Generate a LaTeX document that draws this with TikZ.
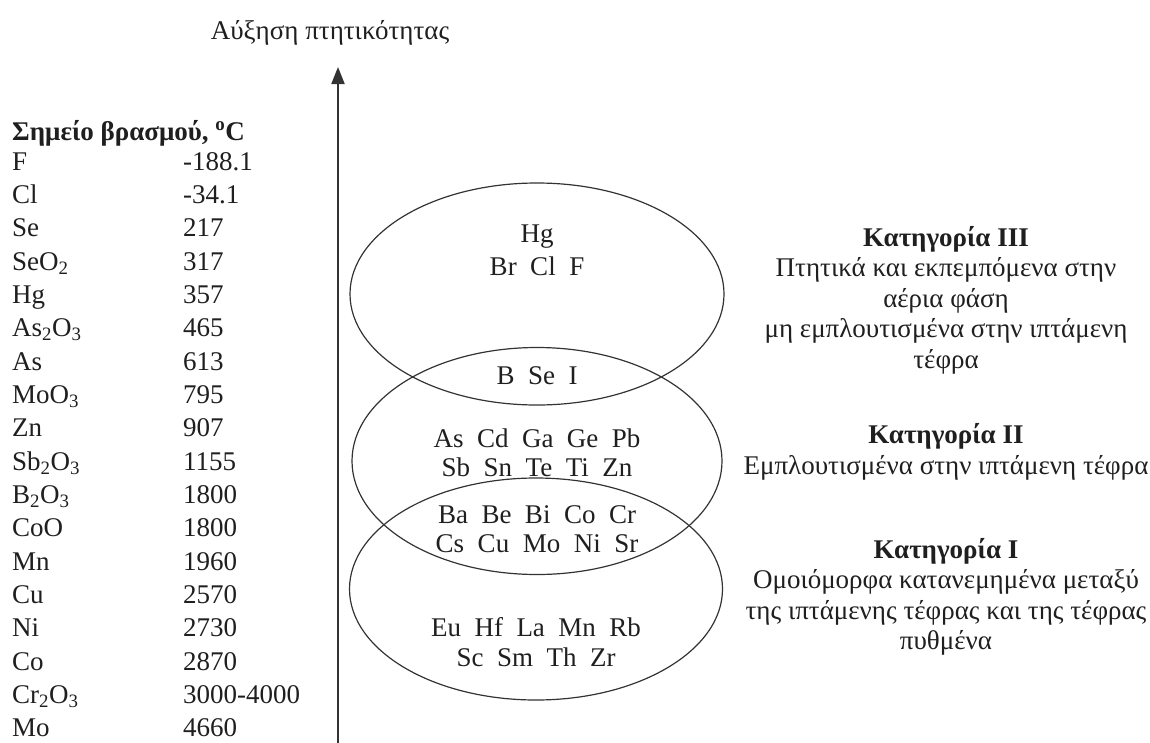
\documentclass[tikz,border=0pt]{standalone}
\usepackage{fontspec}
\setmainfont{Liberation Serif}
\usetikzlibrary{arrows.meta,shapes.geometric}
\newcommand{\gp}{\hspace{0.5em}}
\begin{document}
\begin{tikzpicture}[x=1pt,y=-1pt,
  txt/.style={inner sep=0pt,font=\fontsize{27}{30.5}\selectfont,text=black!88},
  lbl/.style={txt,anchor=base west},
  inner/.style={txt,anchor=base},
  cat/.style={txt,align=center,anchor=center},
  oval/.style={ellipse,draw=black!80,line width=1.2pt,inner sep=0pt},
  axis/.style={draw=black!80,line width=2pt,-{Triangle[width=13pt,length=17pt]}}]
\useasboundingbox (0,0) rectangle (1150,742);
% axis
\coordinate (abot) at (338,745);
\coordinate (atop) at (338,67);
\draw[axis] (abot) -- (atop);
\node[inner] (title) at (330,39) {Αύξηση πτητικότητας};
% table
\node[lbl,font=\fontsize{27}{30.5}\selectfont\bfseries] (hdr) at (12,140) {Σημείο βρασμού, \textsuperscript{o}C};
\foreach \n/\v [count=\i from 0] in {
  F/-188.1, Cl/-34.1, Se/217, SeO\textsubscript{2}/317, Hg/357,
  As\textsubscript{2}O\textsubscript{3}/465, As/613, MoO\textsubscript{3}/795, Zn/907,
  Sb\textsubscript{2}O\textsubscript{3}/1155, B\textsubscript{2}O\textsubscript{3}/1800, CoO/1800,
  Mn/1960, Cu/2570, Ni/2730, Co/2870, Cr\textsubscript{2}O\textsubscript{3}/3000-4000, Mo/4660}{
  \node[lbl] (name\i) at (12,170+33.35*\i) {\n};
  \node[lbl] (val\i) at (183,170+33.35*\i) {\v};
}
% ellipses
\node[oval,minimum width=374pt,minimum height=222pt] (e3) at (537,294) {};
\node[oval,minimum width=370pt,minimum height=227pt] (e2) at (537,461) {};
\node[oval,minimum width=373pt,minimum height=222pt] (e1) at (536,589) {};
% inner texts
\node[inner] (t1) at (537,242) {Hg};
\node[inner] (t2) at (537,275) {Br\gp Cl\gp F};
\node[inner] (t3) at (537,384) {B\gp Se\gp I};
\node[inner] (t4) at (537,447) {As\gp Cd\gp Ga\gp Ge\gp Pb};
\node[inner] (t5) at (537,476) {Sb\gp Sn\gp Te\gp Ti\gp Zn};
\node[inner] (t6) at (537,523) {Ba\gp Be\gp Bi\gp Co\gp Cr};
\node[inner] (t7) at (537,552) {Cs\gp Cu\gp Mo\gp Ni\gp Sr};
\node[inner] (t8) at (536,636) {Eu\gp Hf\gp La\gp Mn\gp Rb};
\node[inner] (t9) at (536,666) {Sc\gp Sm\gp Th\gp Zr};
% categories
\node[cat] (c3) at (946,300) {\textbf{Κατηγορία III}\\Πτητικά και εκπεμπόμενα στην\\αέρια φάση\\μη εμπλουτισμένα στην ιπτάμενη\\τέφρα};
\node[cat] (c2) at (946,452) {\textbf{Κατηγορία II}\\Εμπλουτισμένα στην ιπτάμενη τέφρα};
\node[cat] (c1) at (946,597) {\textbf{Κατηγορία I}\\Ομοιόμορφα κατανεμημένα μεταξύ\\της ιπτάμενης τέφρας και της τέφρας\\πυθμένα};
\end{tikzpicture}
\end{document}
